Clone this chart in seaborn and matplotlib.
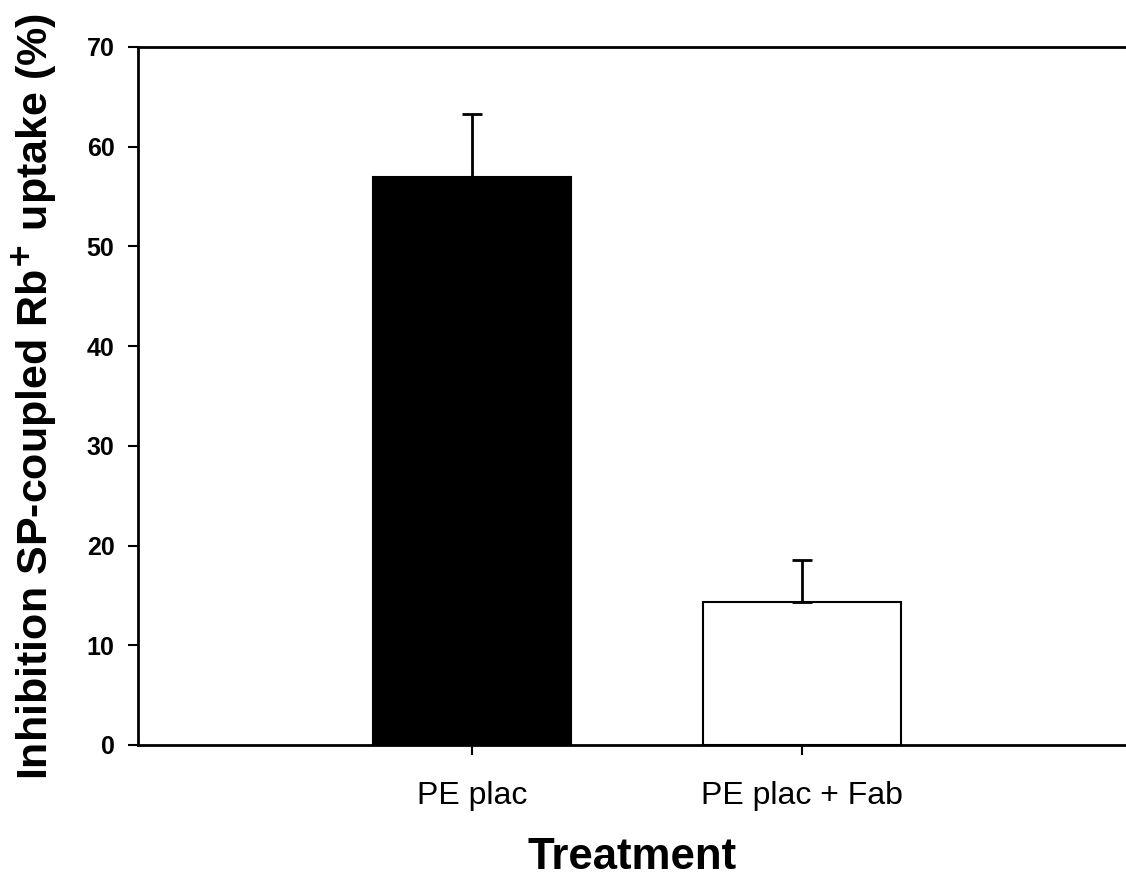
import matplotlib
matplotlib.use("Agg")
import matplotlib.pyplot as plt
import seaborn as sns
import pandas as pd

categories = ["PE plac", "PE plac + Fab"]
values = [57.0, 14.3]
errors = [6.3, 4.3]
bar_colors = ["#000000", "#ffffff"]
yticks = [0, 10, 20, 30, 40, 50, 60, 70]

sns.set_style("white")
plt.rcParams["font.family"] = ["Liberation Sans", "DejaVu Sans"]
plt.rcParams["text.color"] = "black"
plt.rcParams["axes.labelcolor"] = "black"
plt.rcParams["xtick.color"] = "black"
plt.rcParams["ytick.color"] = "black"
plt.rcParams["mathtext.default"] = "bf"

df = pd.DataFrame({"Treatment": categories, "value": values})

fig = plt.figure(figsize=(11.26, 8.81), dpi=100)
ax = fig.add_axes([0.1226, 0.1544, 0.8774, 0.7923])

sns.barplot(data=df, x="Treatment", y="value", hue="Treatment", palette=bar_colors,
            width=0.6, edgecolor="black", linewidth=1.5, legend=False, ax=ax,
            errorbar=None)

xs = list(range(len(categories)))
ax.errorbar(xs, values, yerr=[[0] * len(errors), errors], fmt="none",
            ecolor="black", elinewidth=2, capsize=7.5, capthick=2, zorder=1)

ax.set_xlim(-1.01, 1.98)
ax.set_ylim(0, 70)
ax.set_yticks(yticks)
ax.set_yticklabels([str(t) for t in yticks], fontsize=18, fontweight="bold")
ax.set_xticks(xs)
ax.set_xticklabels(categories, fontsize=23)

for side in ["left", "bottom", "top"]:
    ax.spines[side].set_visible(True)
    ax.spines[side].set_color("black")
    ax.spines[side].set_linewidth(2)
ax.spines["right"].set_visible(False)

ax.tick_params(axis="both", direction="out", length=7, width=1.5, color="black",
               left=True, bottom=True)
ax.tick_params(axis="y", pad=10)
ax.tick_params(axis="x", pad=19)

ax.set_xlabel("Treatment", fontsize=31.5, fontweight="bold", labelpad=19)
ax.set_ylabel(r"Inhibition SP-coupled Rb$^{\mathbf{+}}$ uptake (%)", fontsize=31,
              fontweight="bold", labelpad=20)

fig.savefig("out.png", dpi=100)
